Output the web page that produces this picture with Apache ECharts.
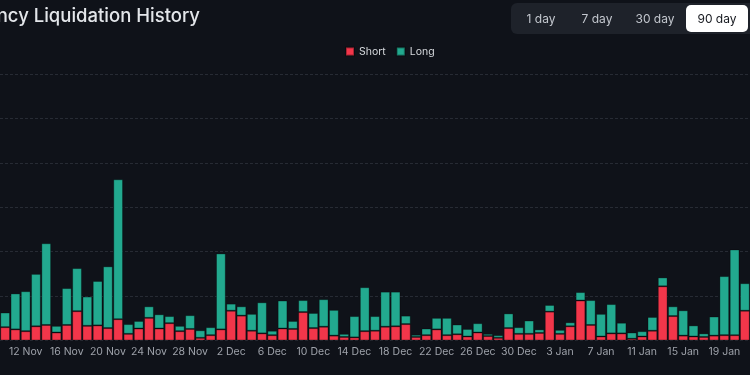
<!DOCTYPE html>
<html>
<head>
<meta charset="utf-8">
<script src="https://cdn.jsdelivr.net/npm/echarts@6/dist/echarts.min.js"></script>
<style>
  html, body { margin: 0; padding: 0; background: #0f1219; }
  #chart { width: 750px; height: 375px; }
</style>
</head>
<body>
<div id="chart"></div>
<script>
// days shown in the 90 day view (left part is cut off)
var days = [
  '10 Nov','11 Nov','12 Nov','13 Nov','14 Nov','15 Nov','16 Nov','17 Nov','18 Nov','19 Nov',
  '20 Nov','21 Nov','22 Nov','23 Nov','24 Nov','25 Nov','26 Nov','27 Nov','28 Nov','29 Nov','30 Nov',
  '1 Dec','2 Dec','3 Dec','4 Dec','5 Dec','6 Dec','7 Dec','8 Dec','9 Dec','10 Dec',
  '11 Dec','12 Dec','13 Dec','14 Dec','15 Dec','16 Dec','17 Dec','18 Dec','19 Dec','20 Dec',
  '21 Dec','22 Dec','23 Dec','24 Dec','25 Dec','26 Dec','27 Dec','28 Dec','29 Dec','30 Dec','31 Dec',
  '1 Jan','2 Jan','3 Jan','4 Jan','5 Jan','6 Jan','7 Jan','8 Jan','9 Jan','10 Jan',
  '11 Jan','12 Jan','13 Jan','14 Jan','15 Jan','16 Jan','17 Jan','18 Jan','19 Jan','20 Jan','21 Jan'
];

var shortLiq = [
  30, 25, 21, 32, 35, 18, 35, 66, 33, 34, 28, 48, 15, 27, 51, 27, 39, 21, 26, 6, 12,
  25, 67, 56, 22, 16, 12, 27, 26, 64, 28, 31, 11, 8, 7, 21, 22, 31, 32, 37, 8,
  12, 25, 12, 14, 9, 18, 10, 6, 28, 15, 15,
  17, 65, 15, 32, 90, 35, 9, 16, 16, 4, 9, 22, 122, 55, 11, 9, 8, 11, 12, 12, 67
];

var longLiq = [
  33, 81, 90, 118, 184, 15, 83, 97, 66, 100, 139, 315, 22, 17, 26, 32, 16, 12, 31, 17, 18,
  171, 16, 21, 38, 70, 10, 63, 18, 27, 34, 62, 58, 7, 48, 99, 33, 79, 78, 19, 5,
  15, 26, 39, 22, 17, 21, 5, 6, 33, 15, 30,
  8, 15, 9, 9, 19, 56, 51, 66, 24, 14, 12, 31, 20, 22, 57, 25, 8, 43, 133, 193, 62
];

var ranges = ['1 day', '7 day', '30 day', '90 day'];
var rangeX = [541, 597, 655, 717];

var myChart = echarts.init(document.getElementById('chart'));

var buttons = [
  { type: 'rect', shape: { x: 511, y: 3, width: 245, height: 31, r: 6 }, style: { fill: '#1e222a' } },
  { type: 'rect', shape: { x: 686, y: 5, width: 62, height: 27, r: 5 }, style: { fill: '#ffffff' } }
];
ranges.forEach(function (r, i) {
  buttons.push({
    type: 'text',
    style: {
      text: r, x: rangeX[i], y: 19, textAlign: 'center', textVerticalAlign: 'middle',
      fill: i === 3 ? '#16191f' : '#c3c7ce', font: '12px Inter'
    }
  });
});

var option = {
  backgroundColor: '#0f1219',
  animation: false,
  graphic: [
    {
      type: 'text',
      style: {
        text: 'Cryptocurrency Liquidation History', x: 200, y: 16,
        textAlign: 'right', textVerticalAlign: 'middle',
        fill: '#e3e6ea', font: '500 18.5px Inter'
      }
    }
  ].concat(buttons),
  legend: {
    data: ['Short', 'Long'],
    left: 340,
    top: 41,
    icon: 'rect',
    itemWidth: 8,
    itemHeight: 8,
    itemGap: 10,
    textStyle: { color: '#d6d9dd', fontSize: 10.5, fontFamily: 'Inter' }
  },
  grid: { left: -3.15, right: -1.3, top: 74, bottom: 34.5 },
  xAxis: {
    type: 'category',
    data: days,
    axisLine: { show: false },
    axisTick: { show: false },
    axisLabel: {
      color: '#9ea2aa',
      fontSize: 10.5,
      fontFamily: 'Inter',
      margin: 6,
      interval: function (idx) { return (idx - 2) % 4 === 0; }
    }
  },
  yAxis: {
    type: 'value',
    min: 0,
    max: 600,
    interval: 100,
    axisLabel: { show: false },
    splitLine: { lineStyle: { color: '#272b34', type: [3, 2], width: 1 } }
  },
  series: [
    {
      name: 'Short',
      type: 'bar',
      stack: 'liq',
      data: shortLiq,
      barCategoryGap: '5%',
      itemStyle: { color: '#f2364a', borderColor: 'rgba(0,0,0,0.3)', borderWidth: 1 }
    },
    {
      name: 'Long',
      type: 'bar',
      stack: 'liq',
      data: longLiq,
      barCategoryGap: '5%',
      itemStyle: { color: '#22a98f', borderColor: 'rgba(0,0,0,0.3)', borderWidth: 1 }
    }
  ]
};

myChart.setOption(option);
</script>
</body>
</html>
